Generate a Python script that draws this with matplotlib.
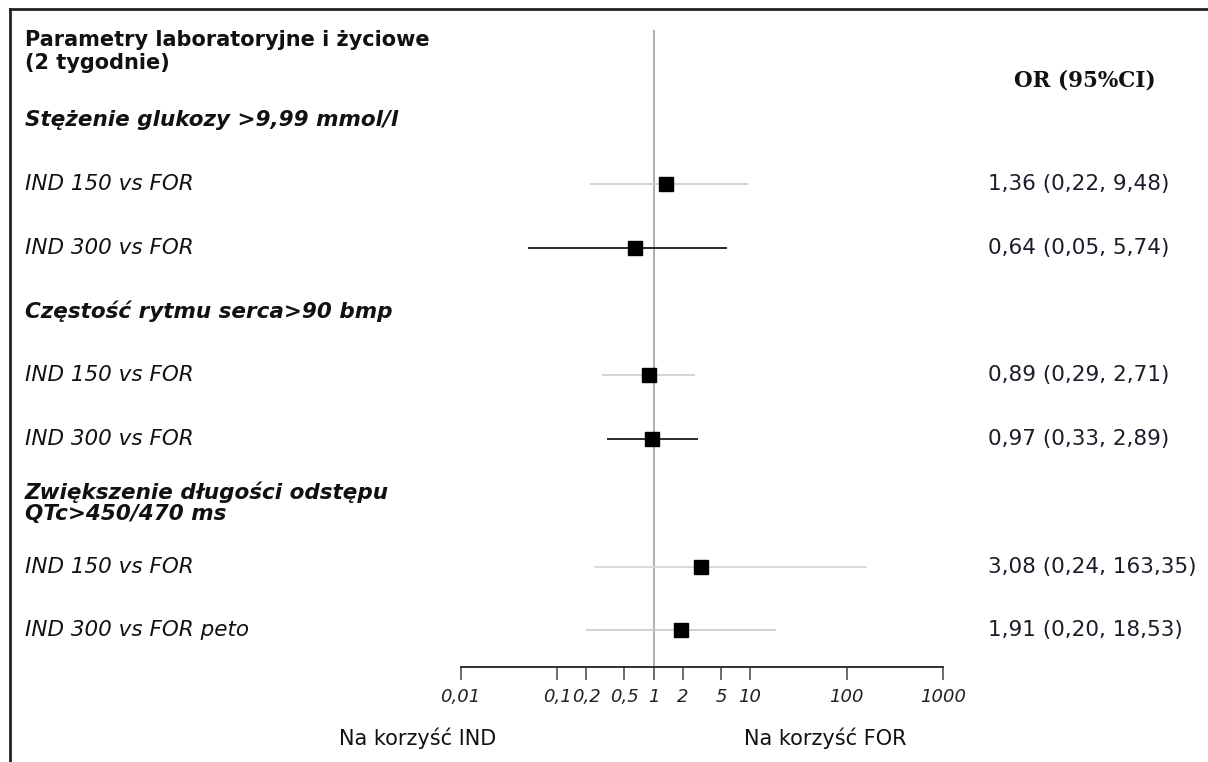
import matplotlib
matplotlib.use("Agg")
import matplotlib.pyplot as plt
from matplotlib.transforms import blended_transform_factory
from matplotlib.lines import Line2D

# --- data -------------------------------------------------------------
title_lines = ["Parametry laboratoryjne i życiowe", "(2 tygodnie)"]
group_names = [
    "Stężenie glukozy >9,99 mmol/l",
    "Częstość rytmu serca>90 bmp",
    "Zwiększenie długości odstępu\nQTc>450/470 ms",
]
comparisons = [
    "IND 150 vs FOR", "IND 300 vs FOR",
    "IND 150 vs FOR", "IND 300 vs FOR",
    "IND 150 vs FOR", "IND 300 vs FOR peto",
]
odds_ratio = [1.36, 0.64, 0.89, 0.97, 3.08, 1.91]
ci_low = [0.22, 0.05, 0.29, 0.33, 0.24, 0.20]
ci_high = [9.48, 5.74, 2.71, 2.89, 163.35, 18.53]
tick_values = [0.01, 0.1, 0.2, 0.5, 1, 2, 5, 10, 100, 1000]
tick_labels = ["0,01", "0,1", "0,2", "0,5", "1", "2", "5", "10", "100", "1000"]

# row slot of each group header and of each comparison
group_slots = [0, 3, 6]
row_slots = [1, 2, 4, 5, 7, 8]
ci_colors = ["#cfcfcf", "#1a1a1a", "#d2d2d2", "#1a1a1a", "#d8d8d8", "#cdcdcd"]


def fmt(v):
    return f"{v:.2f}".replace(".", ",")


W, H = 1208, 762
fig = plt.figure(figsize=(W / 100, H / 100), dpi=100)
fig.patch.set_facecolor("white")

# plotting panel: x from 0.01 to 1000 (log), y in row slots
px_left, px_right = 460.5, 943.0
px_top, px_bottom = 30.0, 667.0
slot0_px, slot_px = 120.0, 63.8
ax = fig.add_axes([px_left / W, 1 - px_bottom / H,
                   (px_right - px_left) / W, (px_bottom - px_top) / H])
ax.set_xscale("log")
ax.set_xlim(0.01, 1000)
y_top = (px_top - slot0_px) / slot_px
y_bot = (px_bottom - slot0_px) / slot_px
ax.set_ylim(y_bot, y_top)
ax.patch.set_alpha(0)
for s in ("top", "right", "left"):
    ax.spines[s].set_visible(False)
ax.spines["bottom"].set_linewidth(1.3)
ax.spines["bottom"].set_color("#222222")
ax.set_yticks([])
ax.set_xticks(tick_values)
ax.set_xticklabels(tick_labels, fontstyle="italic", fontsize=13, color="#222222")
ax.xaxis.set_minor_locator(matplotlib.ticker.NullLocator())
ax.tick_params(axis="x", direction="out", length=9, width=1.1, color="#444444", pad=6)

# line of no effect
ax.axvline(1, color="#a8a8a8", lw=1.3, zorder=1)

# confidence intervals and point estimates
for y, lo, hi, orv, c in zip(row_slots, ci_low, ci_high, odds_ratio, ci_colors):
    ax.plot([lo, hi], [y, y], color=c, lw=1.3, solid_capstyle="butt", zorder=2)
    ax.plot([orv], [y], marker="s", ms=10.5, color="black", zorder=3)

# text columns
tr = blended_transform_factory(fig.transFigure, ax.transData)
x_lab = 25 / W
x_val = 988 / W
fs = 15.5
for i, line in enumerate(title_lines):
    fig.text(x_lab, 1 - (40 + 23 * i) / H, line, fontsize=15, fontweight="bold",
             va="center", ha="left", color="#111111")
fig.text(1085 / W, 1 - 80 / H, "OR (95%CI)", fontsize=15.5, fontweight="bold",
         family="DejaVu Serif", va="center", ha="center", color="#111111")

for s, name in zip(group_slots, group_names):
    ax.text(x_lab, s, name, transform=tr, fontsize=fs,
            fontweight="bold", fontstyle="italic", va="center", ha="left",
            color="#111111", linespacing=1.05, clip_on=False)

for s, lab, orv, lo, hi in zip(row_slots, comparisons, odds_ratio, ci_low, ci_high):
    ax.text(x_lab, s, lab, transform=tr, fontsize=fs, fontstyle="italic",
            va="center", ha="left", color="#111111", clip_on=False)
    ax.text(x_val, s, f"{fmt(orv)} ({fmt(lo)}, {fmt(hi)})", transform=tr,
            fontsize=fs, va="center", ha="left", color="#1c1c2a", clip_on=False)

fig.text(418 / W, 1 - 738 / H, "Na korzyść IND", fontsize=15, ha="center",
         va="center", color="#111111")
fig.text(825 / W, 1 - 738 / H, "Na korzyść FOR", fontsize=15, ha="center",
         va="center", color="#111111")

# outer frame: top and left edges
fig.add_artist(Line2D([10 / W, 1], [1 - 9 / H, 1 - 9 / H], transform=fig.transFigure,
                      color="#222222", lw=2.0))
fig.add_artist(Line2D([10 / W, 10 / W], [1 - 9 / H, 0], transform=fig.transFigure,
                      color="#222222", lw=2.0))

fig.savefig("out.png", dpi=100, facecolor="white")
